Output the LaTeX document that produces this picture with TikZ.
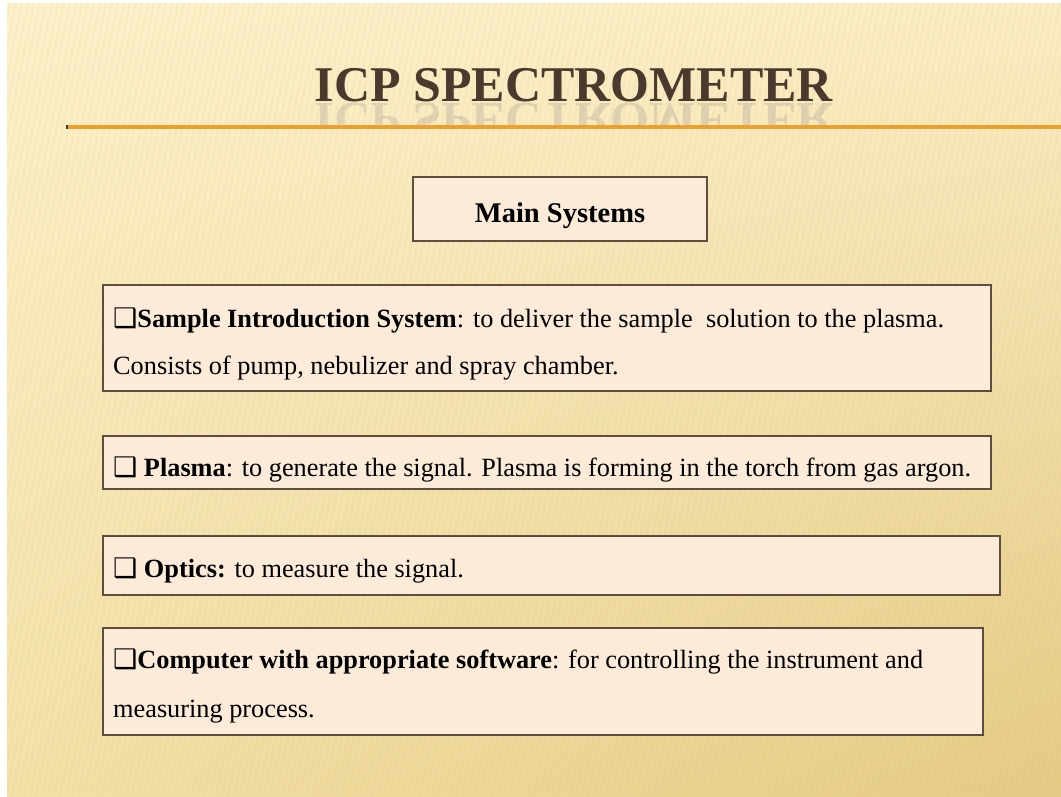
\documentclass[tikz,border=0pt]{standalone}
\usepackage{fontspec}
\setmainfont{Liberation Serif}
\newfontfamily\symfont{DejaVu Sans}
\usetikzlibrary{shadows,shadings}
\definecolor{bgA}{HTML}{FDF1CB}
\definecolor{bgB}{HTML}{FBEDC4}
\definecolor{bgC}{HTML}{F4E1A8}
\definecolor{bgD}{HTML}{E4CA84}
\definecolor{stripe}{HTML}{D9BD70}
\definecolor{boxfill}{HTML}{FBEBD8}
\definecolor{boxline}{HTML}{5E4E40}
\definecolor{titlecol}{HTML}{4A3A2E}
\definecolor{rulecol}{HTML}{EDA02C}
\tikzset{
  panel/.style={draw=boxline, line width=1.2pt, fill=boxfill, inner sep=0pt,
    drop shadow={opacity=0.25, shadow xshift=1.2pt, shadow yshift=-1.2pt}},
  bodytext/.style={anchor=base west, inner sep=0pt, font=\fontsize{26.3}{30}\selectfont, text=black},
  headtext/.style={anchor=base, inner sep=0pt, font=\fontsize{28.5}{32}\selectfont\bfseries, text=black},
}
\newcommand{\bx}{{\symfont\fontsize{27}{30}\selectfont ❑}}
\begin{document}
\begin{tikzpicture}[x=1pt,y=-1pt]
\useasboundingbox (0,0) rectangle (1061,796);
\fill[white] (0,0) rectangle (1061,796);
\shade[upper left=bgA, upper right=bgB, lower left=bgC, lower right=bgD] (7,3) rectangle (1061,796);
\begin{scope}
\clip (7,3) rectangle (1061,796);
\foreach \i in {-300,-294,...,1060}{
  \draw[stripe, opacity=0.09, line width=2.2pt] (\i,796) -- (\i+160,3);
}
\end{scope}
% title
\node[anchor=base, inner sep=0pt, text=titlecol, font=\fontsize{50}{56}\selectfont\bfseries] (title) at (574,101) {ICP SPECTROMETER};
\begin{scope}
\clip (300,102) rectangle (860,125);
\node[anchor=base, inner sep=0pt, text=gray, opacity=0.22, yscale=-1, transform shape, font=\fontsize{50}{56}\selectfont\bfseries] (reflect) at (574,103) {ICP SPECTROMETER};
\end{scope}
\coordinate (ruleL) at (66,127);
\coordinate (ruleR) at (1061,127);
\draw[rulecol, line width=3.5pt] (ruleL) -- (ruleR);
\fill[titlecol] (66,125.25) rectangle (68,128.75);
% main systems
\node[panel, minimum width=294pt, minimum height=64pt] (main) at (560,209) {};
\node[headtext] (mainT) at (560,222) {Main Systems};
% box 1
\node[panel, minimum width=888pt, minimum height=106pt] (b1) at (547,338) {};
\node[bodytext] (b1a) at (113,327) {\bx\textbf{Sample Introduction System}: to deliver the sample\ \ solution to the plasma.};
\node[bodytext] (b1b) at (113,374) {Consists of pump, nebulizer and spray chamber.};
% box 2
\node[panel, minimum width=888pt, minimum height=53pt] (b2) at (547,462.5) {};
\node[bodytext] (b2a) at (113,476) {\bx\ \textbf{Plasma}: to generate the signal. Plasma is forming in the torch from gas argon.};
% box 3
\node[panel, minimum width=897pt, minimum height=59pt] (b3) at (551.5,565.5) {};
\node[bodytext] (b3a) at (113,577) {\bx\ \textbf{Optics:} to measure the signal.};
% box 4
\node[panel, minimum width=880pt, minimum height=107pt] (b4) at (543,681.5) {};
\node[bodytext] (b4a) at (113,668) {\bx\textbf{Computer with appropriate software}: for controlling the instrument and};
\node[bodytext] (b4b) at (113,717) {measuring process.};
\end{tikzpicture}
\end{document}
